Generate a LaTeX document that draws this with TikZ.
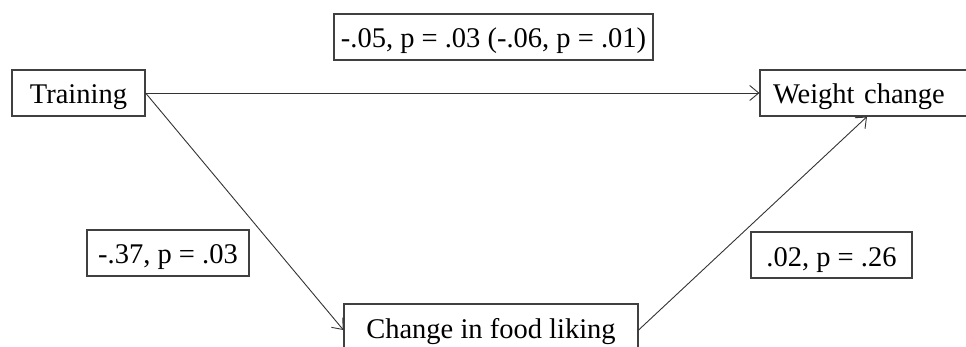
\documentclass[tikz,border=0pt]{standalone}
\usepackage{fontspec}
\setmainfont{Liberation Serif}
\usetikzlibrary{arrows.meta}
\begin{document}
\begin{tikzpicture}[x=1pt,y=-1pt,>={Straight Barb[length=9pt,width=15pt]},
  box/.style={draw=black!75,line width=1.2pt,inner xsep=0pt,inner ysep=4pt,
    text height=30pt,text depth=8pt,anchor=base,
    font=\fontsize{28.5}{34}\selectfont},
  path/.style={->,draw=black!80,line width=0.9pt}]
\useasboundingbox (0,0) rectangle (966,347);
\clip (0,0) rectangle (966,347);

\node[box,minimum width=133pt] (train) at (78.5,104) {Training};
\node[box,text width=300pt,align=left,inner xsep=13pt] (weight) at (923,104) {Weight change};
\node[box,minimum width=294pt,text depth=14pt] (food) at (491,338) {Change in food liking};

\node[box,minimum width=319pt] (direct) at (493.5,48) {-.05, p = .03 (-.06, p = .01)};
\node[box,minimum width=162pt] (apath) at (168,264) {-.37, p = .03};
\node[box,minimum width=161pt] (bpath) at (831.5,266) {.02, p = .26};

\draw[path] (train.east) -- (weight.west);
\draw[path] (train.east) -- (food.west);
\draw[path] (food.east) -- ([xshift=-56pt]weight.south);
\end{tikzpicture}
\end{document}
